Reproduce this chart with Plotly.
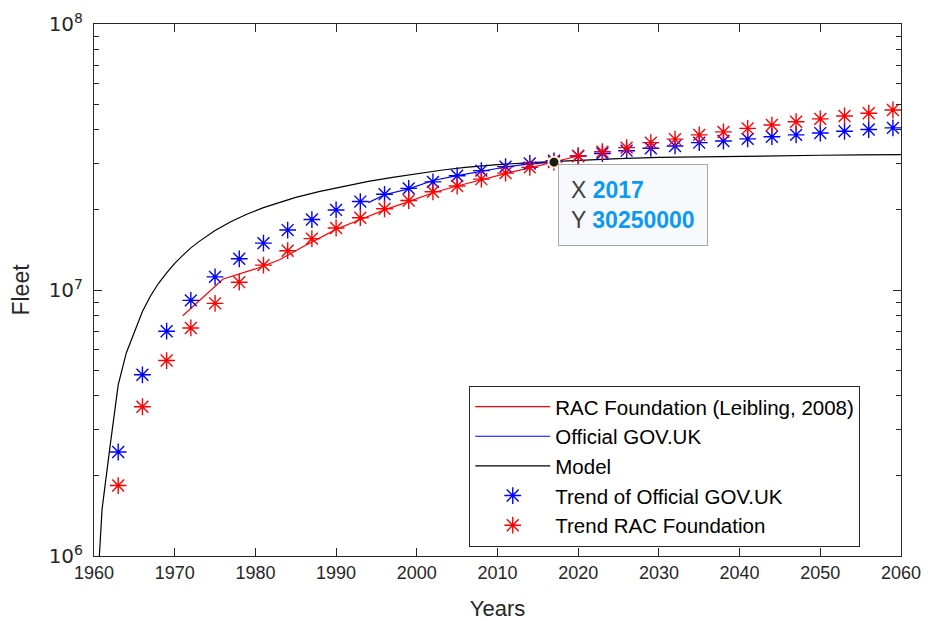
import plotly.graph_objects as go
import numpy as np

# ---------------- data ----------------
# RAC Foundation (Leibling, 2008) - red line
rac_years = [1971, 1976, 1980, 1983, 1986, 1990, 1993, 1996, 1999, 2002, 2005, 2008, 2011, 2014, 2017, 2020]
rac_fleet = [8.0e6, 11.0e6, 12.0e6, 13.0e6, 14.6e6, 16.9e6, 18.4e6, 20.0e6, 21.5e6, 23.2e6, 24.6e6,
             26.0e6, 27.4e6, 28.8e6, 30.25e6, 31.9e6]

# Official GOV.UK - blue line
gov_years = [1994, 1996, 1999, 2002, 2005, 2008, 2011, 2014, 2017]
gov_fleet = [21.3e6, 22.8e6, 24.0e6, 25.8e6, 26.9e6, 28.0e6, 29.0e6, 29.8e6, 30.25e6]

# Model - black line
model_years = [1960, 1961, 1962, 1963, 1964, 1965, 1966, 1967, 1968, 1969, 1970, 1971, 1972, 1973,
               1974, 1975, 1977, 1979, 1981, 1983, 1985, 1988, 1991, 1994, 1997, 2000, 2003, 2006,
               2010, 2014, 2017, 2020, 2025, 2030, 2035, 2040, 2045, 2050, 2055, 2060]
model_fleet = [0.45e6, 1.5e6, 2.6e6, 4.4e6, 5.8e6, 7.0e6, 8.3e6, 9.5e6, 10.6e6, 11.6e6, 12.6e6, 13.5e6,
               14.4e6, 15.2e6, 16.0e6, 16.75e6, 18.1e6, 19.3e6, 20.4e6, 21.4e6, 22.3e6, 23.5e6, 24.6e6,
               25.6e6, 26.5e6, 27.4e6, 28.2e6, 28.9e6, 29.6e6, 30.1e6, 30.45e6, 30.8e6, 31.2e6, 31.5e6,
               31.7e6, 31.9e6, 32.0e6, 32.1e6, 32.2e6, 32.3e6]

# Trend years (every 3 years)
trend_years = [1963, 1966, 1969, 1972, 1975, 1978, 1981, 1984, 1987, 1990, 1993, 1996, 1999, 2002,
               2005, 2008, 2011, 2014, 2017, 2020, 2023, 2026, 2029, 2032, 2035, 2038, 2041, 2044,
               2047, 2050, 2053, 2056, 2059]
# Trend of Official GOV.UK - blue asterisks
trend_gov = [2.46e6, 4.80e6, 7.0e6, 9.14e6, 11.2e6, 13.1e6, 15.0e6, 16.8e6, 18.4e6, 20.0e6, 21.5e6,
             22.9e6, 24.1e6, 25.5e6, 26.9e6, 28.1e6, 29.1e6, 29.9e6, 30.6e6, 31.9e6, 32.6e6, 33.4e6,
             34.1e6, 34.8e6, 35.8e6, 36.3e6, 37.0e6, 37.7e6, 38.3e6, 38.9e6, 39.5e6, 40.1e6, 40.7e6]
# Trend RAC Foundation - red asterisks
trend_rac = [1.84e6, 3.64e6, 5.43e6, 7.20e6, 8.91e6, 10.7e6, 12.4e6, 14.05e6, 15.6e6, 17.1e6, 18.7e6,
             20.2e6, 21.7e6, 23.4e6, 24.6e6, 26.1e6, 27.5e6, 28.9e6, 30.25e6, 31.9e6, 33.1e6, 34.3e6,
             35.8e6, 36.9e6, 38.3e6, 39.3e6, 40.5e6, 41.7e6, 42.9e6, 44.0e6, 45.1e6, 46.2e6, 47.5e6]

# Data tip
tip_x = 2017
tip_y = 30250000

x_ticks = [1960, 1970, 1980, 1990, 2000, 2010, 2020, 2030, 2040, 2050, 2060]
y_ticks = [1e6, 1e7, 1e8]
y_ticktext = ["10<sup>6</sup>", "10<sup>7</sup>", "10<sup>8</sup>"]
y_minor = [m * d for d in (1e6, 1e7) for m in range(2, 10)]

# ---------------- figure ----------------
AX = "#262626"
FONT = "Liberation Sans, Arial, Helvetica, sans-serif"

fig = go.Figure()
fig.add_trace(go.Scatter(x=rac_years, y=rac_fleet, mode="lines", name="RAC Foundation (Leibling, 2008)",
                         line=dict(color="#ff0000", width=1.2), legendgroup="g1"))
fig.add_trace(go.Scatter(x=gov_years, y=gov_fleet, mode="lines", name="Official GOV.UK",
                         line=dict(color="#0000ff", width=1.2), legendgroup="g2"))
fig.add_trace(go.Scatter(x=model_years, y=model_fleet, mode="lines", name="Model",
                         line=dict(color="#000000", width=1.2), legendgroup="g3"))
fig.add_trace(go.Scatter(x=trend_years, y=trend_gov, mode="markers", name="Trend of Official GOV.UK",
                         marker=dict(symbol="asterisk-open", size=14, color="#0000ff",
                                     line=dict(color="#0000ff", width=1.4)), legendgroup="g4"))
fig.add_trace(go.Scatter(x=trend_years, y=trend_rac, mode="markers", name="Trend RAC Foundation",
                         marker=dict(symbol="asterisk-open", size=14, color="#ff0000",
                                     line=dict(color="#ff0000", width=1.4)), legendgroup="g5"))
fig.add_trace(go.Scatter(x=[tip_x], y=[tip_y], mode="markers", showlegend=False, hoverinfo="skip",
                         marker=dict(symbol="circle", size=11, color="#1a1a1a",
                                     line=dict(color="#fff3c8", width=2))))

fig.add_annotation(
    x=tip_x, y=np.log10(tip_y), xref="x", yref="y", showarrow=False,
    xanchor="left", yanchor="top", xshift=4, yshift=-2,
    text=(f"<span style='color:#404040'>X</span> <b><span style='color:#0a9af4'>{tip_x}</span></b><br>"
          f"<span style='color:#404040'>Y</span> <b><span style='color:#0a9af4'>{tip_y}</span></b>"),
    align="left", font=dict(family=FONT, size=23, color="#404040"),
    bgcolor="#f8f9fd", bordercolor="#a8a8a8", borderwidth=1, borderpad=12,
)

fig.update_layout(
    width=928, height=621,
    margin=dict(l=94, r=27, t=24, b=65, autoexpand=False),
    plot_bgcolor="white", paper_bgcolor="white",
    font=dict(family=FONT, size=18, color=AX),
    showlegend=True,
    legend=dict(x=0.465, y=0.32, xanchor="left", yanchor="top", bgcolor="white",
                bordercolor=AX, borderwidth=1, font=dict(family=FONT, size=20.5, color="#000000"),
                traceorder="grouped", tracegroupgap=0, itemwidth=75,
                entrywidth=340, entrywidthmode="pixels"),
    xaxis=dict(range=[1960, 2060], tickmode="array", tickvals=x_ticks, ticks="inside", ticklen=8,
               tickcolor=AX, showline=True, linecolor=AX, linewidth=1, mirror="ticks",
               showgrid=False, zeroline=False, tickfont=dict(family=FONT, size=18, color=AX),
               automargin=False,
               title=dict(text="Years", font=dict(family=FONT, size=22, color=AX), standoff=20)),
    yaxis=dict(type="log", range=[6, 8], tickmode="array", tickvals=y_ticks, ticktext=y_ticktext,
               ticks="inside", ticklen=8, tickcolor=AX, showline=True, linecolor=AX, linewidth=1,
               mirror="ticks", showgrid=False, zeroline=False, ticklabelstandoff=6,
               tickfont=dict(family="DejaVu Sans, sans-serif", size=20, color=AX),
               automargin=False,
               minor=dict(tickmode="array", tickvals=y_minor, ticks="inside", ticklen=5, tickcolor=AX,
                          showgrid=False),
               title=dict(text="Fleet", font=dict(family=FONT, size=23, color=AX), standoff=12)),
)

fig.write_html("out.html")
